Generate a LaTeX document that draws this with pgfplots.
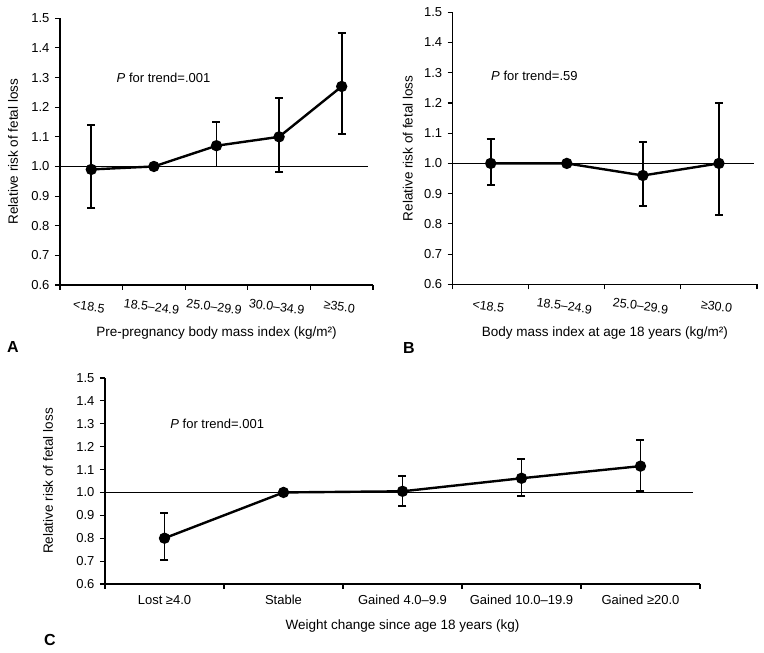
\documentclass[border=0pt]{standalone}
\usepackage{pgfplots}
\pgfplotsset{compat=1.18}
\usepackage{fontspec}
\setmainfont{Liberation Sans}

\pgfplotsset{
  rrstyle/.style={
    scale only axis,
    axis x line=bottom, axis y line=left,
    axis line style={line width=1.1pt, -},
    ymin=0.6, ymax=1.5,
    ytick={0.6,0.7,0.8,0.9,1.0,1.1,1.2,1.3,1.4,1.5},
    yticklabel style={xshift=-2pt, /pgf/number format/.cd, fixed, fixed zerofill, precision=1, assume math mode=true},
    tick align=outside,
    major tick length=5pt, minor tick length=5pt,
    tick style={line width=1.1pt, black},
    major x tick style={draw=none},
    tick label style={font=\fontsize{13}{15}\selectfont},
    label style={font=\fontsize{13.5}{15}\selectfont},
    clip=false,
  },
  refline/.style={black, line width=0.9pt, no marks, forget plot},
  series/.style={black, line width=2.4pt, mark=*, mark size=4.9pt, mark options={fill=black, solid, line width=1.5pt},
    error bars/.cd, y dir=both, y explicit,
    error bar style={line width=1.9pt, black},
    error mark options={rotate=90, mark size=4pt, line width=1.9pt, black}},
}

\begin{document}
\begin{tikzpicture}[x=1pt,y=1pt]
\useasboundingbox (0,0) rectangle (764,653);

% ---------------- Panel A ----------------
\begin{axis}[rrstyle,
  at={(60pt,368pt)}, anchor=south west,
  width=313pt, height=266.7pt,
  xmin=-0.5, xmax=4.5,
  xtick={0,1,2,3,4},
  minor xtick={-0.5,0.5,1.5,2.5,3.5,4.5},
  xticklabels={{<18.5},{18.5–24.9},{25.0–29.9},{30.0–34.9},{≥35.0}},
  xticklabel style={font=\fontsize{12.5}{14}\selectfont, rotate=-8, anchor=center, yshift=-17pt},
  xlabel={Pre-pregnancy body mass index (kg/m²)},
  xlabel style={at={(axis description cs:0.5,0)}, anchor=center, yshift=-48pt},
  ylabel={Relative risk of fetal loss},
  ylabel style={at={(axis description cs:0,0.5)}, anchor=center, yshift=47pt},
]
\addplot[refline] coordinates {(-0.5,1) (4.42,1)};
\addplot[series] coordinates {
  (0,0.99) += (0,0.15) -= (0,0.13)
  (1,1.00) += (0,0) -= (0,0)
  (2,1.07) += (0,0.08) -= (0,0.07)
  (3,1.10) += (0,0.13) -= (0,0.12)
  (4,1.27) += (0,0.18) -= (0,0.16)
};
\node[anchor=west, font=\fontsize{13}{15}\selectfont] at (axis cs:0.35,1.30) {\textit{P} for trend=.001};
\end{axis}

% ---------------- Panel B ----------------
\begin{axis}[rrstyle,
  at={(452.7pt,368.7pt)}, anchor=south west,
  width=304.3pt, height=272pt,
  xmin=-0.5, xmax=3.5,
  xtick={0,1,2,3},
  minor xtick={-0.5,0.5,1.5,2.5,3.5},
  xticklabels={{<18.5},{18.5–24.9},{25.0–29.9},{≥30.0}},
  xticklabel style={font=\fontsize{12.5}{14}\selectfont, rotate=-8, anchor=center, yshift=-17pt},
  xlabel={Body mass index at age 18 years (kg/m²)},
  xlabel style={at={(axis description cs:0.5,0)}, anchor=center, yshift=-48.7pt},
  ylabel={Relative risk of fetal loss},
  ylabel style={at={(axis description cs:0,0.5)}, anchor=center, yshift=45pt},
]
\addplot[refline] coordinates {(-0.5,1) (3.46,1)};
\addplot[series] coordinates {
  (0,1.00) += (0,0.08) -= (0,0.07)
  (1,1.00) += (0,0) -= (0,0)
  (2,0.96) += (0,0.11) -= (0,0.10)
  (3,1.00) += (0,0.20) -= (0,0.17)
};
\node[anchor=west, font=\fontsize{13}{15}\selectfont] at (axis cs:-0.04,1.29) {\textit{P} for trend=.59};
\end{axis}

% ---------------- Panel C ----------------
\begin{axis}[rrstyle,
  at={(105pt,69pt)}, anchor=south west,
  width=595pt, height=206pt,
  xmin=-0.5, xmax=4.5,
  xtick={0,1,2,3,4},
  minor xtick={-0.5,0.5,1.5,2.5,3.5,4.5},
  xticklabels={{Lost ≥4.0},{Stable},{Gained 4.0–9.9},{Gained 10.0–19.9},{Gained ≥20.0}},
  xticklabel style={anchor=center, yshift=-11pt},
  xlabel={Weight change since age 18 years (kg)},
  xlabel style={at={(axis description cs:0.5,0)}, anchor=center, yshift=-42pt},
  ylabel={Relative risk of fetal loss},
  ylabel style={at={(axis description cs:0,0.5)}, anchor=center, yshift=57pt},
]
\addplot[refline] coordinates {(-0.5,1) (4.44,1)};
\addplot[series] coordinates {
  (0,0.80) += (0,0.11) -= (0,0.095)
  (1,1.00) += (0,0) -= (0,0)
  (2,1.005) += (0,0.067) -= (0,0.065)
  (3,1.062) += (0,0.086) -= (0,0.077)
  (4,1.115) += (0,0.115) -= (0,0.107)
};
\node[anchor=west, font=\fontsize{13}{15}\selectfont] at (axis cs:0.02,1.30) {\textit{P} for trend=.001};
\end{axis}

% panel letters
\node[font=\bfseries\fontsize{16}{18}\selectfont] at (13,306) {A};
\node[font=\bfseries\fontsize{16}{18}\selectfont] at (409,305) {B};
\node[font=\bfseries\fontsize{16}{18}\selectfont] at (50,13) {C};
\end{tikzpicture}
\end{document}
